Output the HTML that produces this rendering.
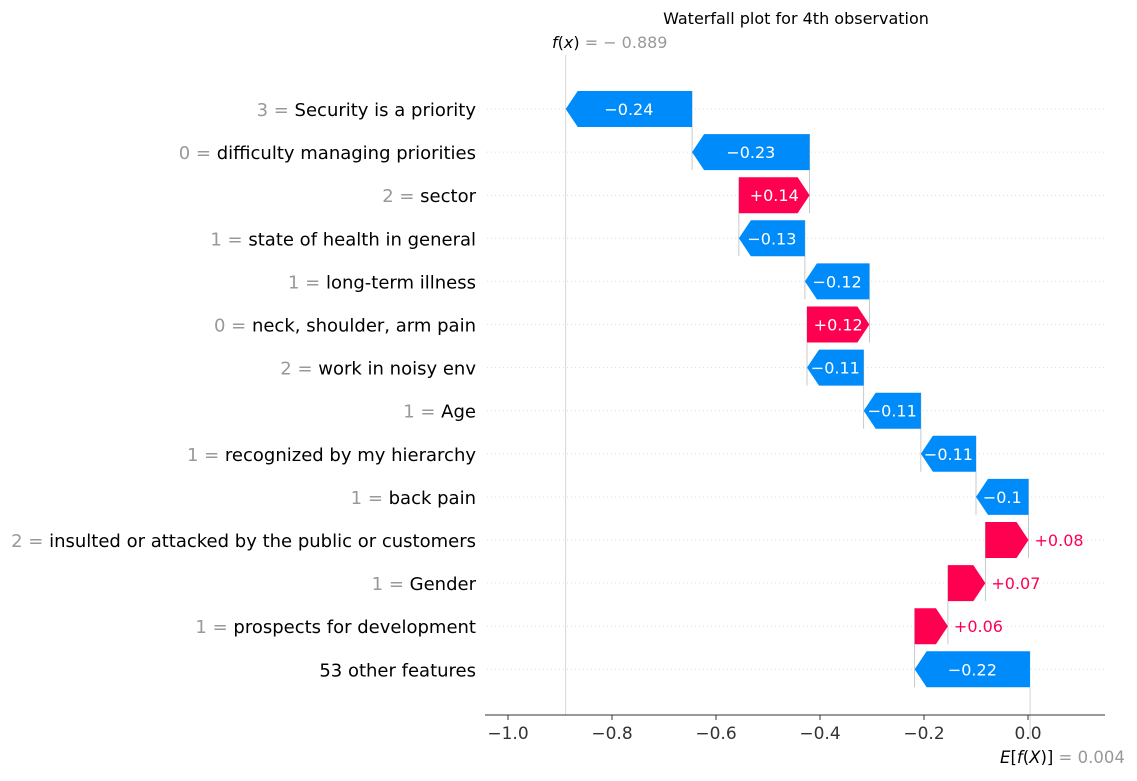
<!DOCTYPE html>
<html><head><meta charset="utf-8"><style>
body{margin:0;background:#fff;font-family:"Liberation Sans","DejaVu Sans",sans-serif;}
svg text{font-family:"DejaVu Sans","Liberation Sans",sans-serif;}
</style></head><body>
<svg id="chart" width="1137" height="776" xmlns="http://www.w3.org/2000/svg">
<text x="796" y="24" font-size="16" text-anchor="middle">Waterfall plot for 4th observation</text>
<g id="grid"></g><g id="bars"></g><g id="labels"></g><g id="axis"></g>
</svg>
<script>
const featureValues=["3","0","2","1","1","0","2","1","1","1","2","1","1",""];
const featureNames=["Security is a priority","difficulty managing priorities","sector","state of health in general","long-term illness","neck, shoulder, arm pain","work in noisy env","Age","recognized by my hierarchy","back pain","insulted or attacked by the public or customers","Gender","prospects for development","53 other features"];
const shapValues=[-0.243,-0.226,0.136,-0.127,-0.124,0.12,-0.109,-0.11,-0.106,-0.101,0.083,0.072,0.064,-0.222];
const baseValue=0.004;
const fxValue=-0.889;
const xTicks=[-1.0,-0.8,-0.6,-0.4,-0.2,0.0];

const NS="http://www.w3.org/2000/svg";
const xs=v=>1028+v*520;
const ys=i=>109+i*43.1;
const BH=36, BLUE="#008bfb", RED="#ff0051";
function mk(t,a,p){const e=document.createElementNS(NS,t);for(const k in a)e.setAttribute(k,a[k]);p.appendChild(e);return e;}
const G=document.getElementById('grid'),B=document.getElementById('bars'),L=document.getElementById('labels'),A=document.getElementById('axis');
const fmt=v=>{let s=Math.abs(v).toFixed(2).replace(/0+$/,'').replace(/\.$/,'');return (v<0?'\u2212':'+')+s;};
const n=shapValues.length;
let ends=new Array(n),starts=new Array(n);let cur=baseValue;
for(let i=n-1;i>=0;i--){starts[i]=cur;cur+=shapValues[i];ends[i]=cur;}
const fl=mk('line',{x1:xs(fxValue),x2:xs(fxValue),y1:55,y2:715,stroke:'#ccc','stroke-width':0.8},G);

for(let i=0;i<n;i++){
  const y=ys(i);
  const gl=mk('line',{x1:487,x2:1105,y1:y,y2:y,stroke:'#ddd','stroke-dasharray':'1,3','stroke-width':1},G);
  
  if(i<n-1){const c=mk('line',{x1:xs(starts[i]),x2:xs(starts[i]),y1:y-BH/2,y2:ys(i+1)+BH/2,stroke:'#bbb','stroke-width':0.8},G);
    }
  const v=shapValues[i],x0=xs(starts[i]),x1=xs(ends[i]);
  const w=Math.abs(x1-x0),hl=Math.min(12,w),dir=v>0?1:-1;
  const xb=x1-dir*hl;
  const pts=`${x0},${y-BH/2} ${xb},${y-BH/2} ${x1},${y} ${xb},${y+BH/2} ${x0},${y+BH/2}`;
  const p=mk('polygon',{points:pts,fill:v>0?RED:BLUE},B);
  
  
  const txt=fmt(v);const tw=txt.length*8.5;
  let t;
  if(w>tw+4){t=mk('text',{x:(x0+x1)/2,y:y+6,'font-size':16,'text-anchor':'middle',fill:'#fff'},L);}
  else{t=mk('text',{x:v>0?x1+6:x1-6,y:y+6,'font-size':16,'text-anchor':v>0?'start':'end',fill:v>0?RED:BLUE},L);}
  t.textContent=txt;
  const yl=mk('text',{x:476,y:y+7,'font-size':18,'text-anchor':'end',fill:'#000'},L);
  
  if(featureValues[i]!==''){const s=mk('tspan',{fill:'#999'},yl);s.textContent=featureValues[i]+' = ';}
  const s2=mk('tspan',{},yl);s2.textContent=featureNames[i];
}
const el=mk('line',{x1:xs(baseValue),x2:xs(baseValue),y1:ys(n-1)+BH/2,y2:740,stroke:'#ccc','stroke-width':0.8},G);

const ax=mk('line',{x1:485,x2:1105,y1:715,y2:715,stroke:'#333','stroke-width':1},A);

xTicks.forEach(v=>{
  const tk=mk('line',{x1:xs(v),x2:xs(v),y1:715,y2:720,stroke:'#333'},A);
  
  const t=mk('text',{x:xs(v),y:739,'font-size':17,'text-anchor':'middle',fill:'#333'},A);
  t.textContent=(v<0?'\u2212':'')+Math.abs(v).toFixed(1);
  
});
const ft=mk('text',{x:552,y:48,'font-size':16,'text-anchor':'start'},A);

ft.innerHTML='<tspan x="552" font-style="italic">f</tspan><tspan>(</tspan><tspan font-style="italic">x</tspan><tspan>)</tspan><tspan fill="#999"> = \u2212 '+Math.abs(fxValue).toFixed(3)+'</tspan>';
const et=mk('text',{x:1000,y:763,'font-size':16.5},A);

et.innerHTML='<tspan font-style="italic">E</tspan><tspan>[</tspan><tspan font-style="italic">f</tspan><tspan>(</tspan><tspan font-style="italic">X</tspan><tspan>)]</tspan><tspan fill="#999"> = '+baseValue.toFixed(3)+'</tspan>';
</script>
</body></html>
